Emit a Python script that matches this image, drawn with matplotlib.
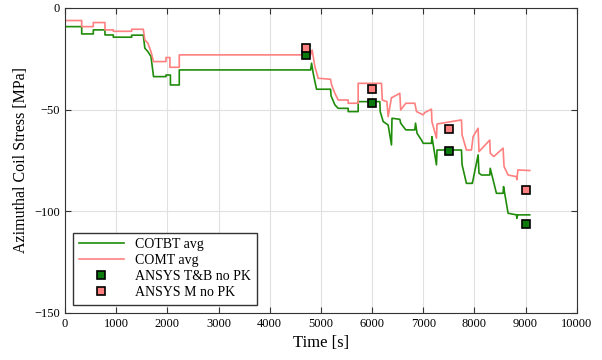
import matplotlib.pyplot as plt

plt.rcParams['font.family'] = ['Liberation Serif', 'DejaVu Serif']

# COTBT avg (green) - time [s], stress [MPa]
t_cotbt = [0, 326, 326, 553, 553, 781, 781, 944, 944, 1302, 1302, 1530, 1560, 1620, 1680, 1730,
           1973, 1973, 2060, 2060, 2233, 2233, 4800, 4818, 4850, 4883, 4916, 4948, 5189, 5200,
           5274, 5339, 5534, 5534, 5729, 5729, 6152, 6160, 6218, 6315, 6380, 6390, 6400, 6543,
           6560, 6660, 6836, 6850, 6880, 6966, 7000, 7161, 7170, 7259, 7270, 7748, 7760, 7845,
           7943, 7960, 8073, 8090, 8140, 8301, 8310, 8431, 8561, 8570, 8659, 8822, 8830, 8845, 9082]
v_cotbt = [-9.2, -9.2, -12.8, -12.8, -10.8, -10.8, -13.3, -13.3, -14.4, -14.4, -13.4, -13.4, -19.8, -21.5, -23.9, -33.8,
           -33.8, -33.0, -33.0, -37.9, -37.9, -30.5, -30.5, -27.2, -32.1, -36.2, -40.0, -40.0, -40.0, -43.3,
           -47.7, -49.4, -49.4, -51.0, -51.0, -46.1, -46.1, -51.0, -55.9, -57.6, -67.4, -54.3, -54.3, -54.8,
           -56.7, -60.0, -60.0, -56.7, -61.7, -65.0, -66.6, -66.6, -63.3, -77.2, -69.9, -69.9, -77.2, -86.3,
           -86.3, -86.3, -72.3, -81.3, -82.2, -82.2, -78.9, -91.2, -91.2, -87.9, -101.0, -101.8, -103.5, -101.8, -101.8]

# COMT avg (pink)
t_comt = [0, 326, 326, 553, 553, 781, 781, 944, 944, 1302, 1302, 1530, 1560, 1620, 1680, 1730,
          1973, 1973, 2050, 2050, 2233, 2233, 4800, 4830, 4883, 4948, 5189, 5210, 5274, 5339,
          5534, 5534, 5729, 5729, 6185, 6200, 6290, 6315, 6380, 6390, 6543, 6560, 6660, 6836,
          6870, 6999, 7030, 7161, 7170, 7259, 7270, 7748, 7760, 7845, 7943, 7975, 8073, 8090,
          8301, 8310, 8380, 8561, 8580, 8659, 8822, 8830, 8850, 9082]
v_comt = [-6.2, -6.2, -9.2, -9.2, -7.2, -7.2, -10.8, -10.8, -11.5, -11.5, -10.5, -10.5, -15.7, -17.4, -21.5, -26.4,
          -26.4, -24.4, -24.4, -29.2, -29.2, -23.1, -23.1, -20.7, -28.9, -34.6, -35.1, -37.9, -42.0, -45.3,
          -45.3, -46.9, -46.9, -37.1, -37.1, -45.3, -46.1, -53.5, -44.1, -44.1, -42.0, -50.2, -46.9, -46.9,
          -51.0, -52.6, -51.5, -49.8, -55.9, -64.1, -57.1, -55.1, -62.5, -69.9, -69.9, -63.3, -59.2, -70.7,
          -65.0, -71.5, -73.1, -69.0, -78.0, -82.2, -83.0, -84.5, -79.7, -80.0]

# ANSYS results
t_ansys = [4700, 6000, 7500, 9000]
v_ansys_tb = [-23.3, -46.8, -70.5, -106.3]
v_ansys_m = [-19.5, -39.8, -59.6, -89.6]

fig = plt.figure(figsize=(6.02, 3.6), dpi=100)
ax = fig.add_axes([0.108, 0.131, 0.850, 0.847])

ax.plot(t_cotbt, v_cotbt, color='#1f8c0a', lw=1.2, label='COTBT avg')
ax.plot(t_comt, v_comt, color='#ff8080', lw=1.2, label='COMT avg')
ax.plot(t_ansys, v_ansys_tb, ls='none', marker='s', ms=6, mfc='#0a7a0a', mec='black', mew=1.2,
        label='ANSYS T&B no PK')
ax.plot(t_ansys, v_ansys_m, ls='none', marker='s', ms=6, mfc='#ff8080', mec='black', mew=1.2,
        label='ANSYS M no PK')

ax.set_xlim(0, 10000)
ax.set_ylim(-150, 0)
ax.set_xticks(range(0, 10001, 1000))
ax.set_yticks([-150, -100, -50, 0])
ax.grid(True, color='#e0e0e0', lw=0.8)
ax.tick_params(direction='in', top=True, right=True, labelsize=9, length=4, color='#333333')
for s in ax.spines.values():
    s.set_color('#333333')

ax.set_xlabel('Time [s]', fontsize=12)
ax.set_ylabel('Azimuthal Coil Stress [MPa]', fontsize=11.5)

leg = ax.legend(loc='lower left', bbox_to_anchor=(0.0156, 0.026), borderaxespad=0, fontsize=10,
                fancybox=False, framealpha=1, edgecolor='#333333', handlelength=3.3,
                labelspacing=0.22, borderpad=0.4, handletextpad=0.8)
leg.get_frame().set_linewidth(1.0)

fig.savefig('out.png', dpi=100)
